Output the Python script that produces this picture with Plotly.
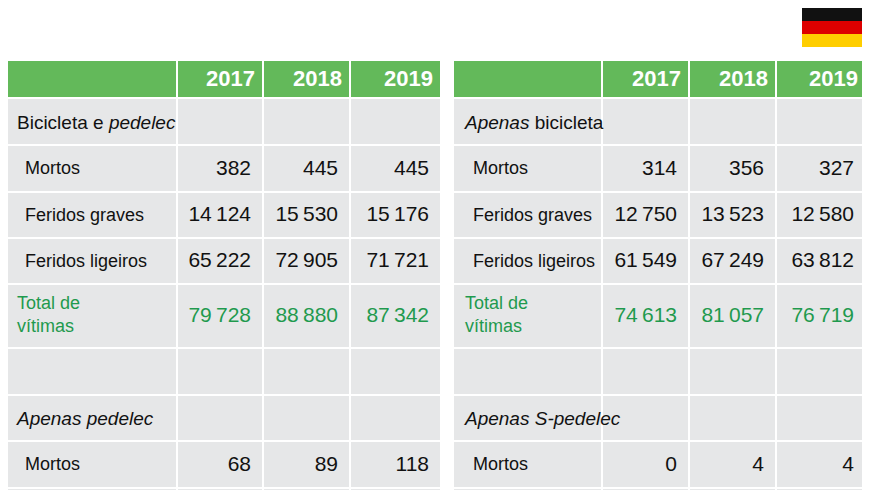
import plotly.graph_objects as go

title = "Vítimas de acidentes com bicicletas, <i>pedelecs</i> e S-<i>pedelecs</i>"
years = ["2017", "2018", "2019"]
row_labels = ["Mortos", "Feridos graves", "Feridos ligeiros", "Total de<br>vítimas"]
left_head1 = "Bicicleta e <i>pedelec</i>"
left_vals1 = [[382, 445, 445], [14124, 15530, 15176], [65222, 72905, 71721], [79728, 88880, 87342]]
left_head2 = "<i>Apenas pedelec</i>"
left_vals2 = [[68, 89, 118]]
right_head1 = "<i>Apenas</i> bicicleta"
right_vals1 = [[314, 356, 327], [12750, 13523, 12580], [61549, 67249, 63812], [74613, 81057, 76719]]
right_head2 = "<i>Apenas S-pedelec</i>"
right_vals2 = [[0, 4, 4]]

FONT = "Liberation Sans Narrow, Liberation Sans, Arial, sans-serif"
GREEN = "#63b95a"
TGREEN = "#1f9a4e"
GRAY = "#e6e7e8"

def fmt(v):
    return f"{v:,}".replace(",", "\u2009")

rows = [(60, 98), (98, 145), (145, 192), (192, 238), (238, 284), (284, 348), (348, 395), (395, 441), (441, 488), (488, 530)]
tables = [
    dict(cols=[5, 177, 263, 350, 441], h1=left_head1, v1=left_vals1, h2=left_head2, v2=left_vals2),
    dict(cols=[453, 602, 689, 776, 866], h1=right_head1, v1=right_vals1, h2=right_head2, v2=right_vals2),
]

fig = go.Figure()
shapes = []
for t in tables:
    c = t["cols"]
    for ri, (y0, y1) in enumerate(rows):
        for ci in range(4):
            shapes.append(dict(type="rect", xref="x", yref="y", x0=c[ci] + 1, x1=c[ci + 1] - 1,
                               y0=y0 + 1, y1=y1 - 1, fillcolor=GREEN if ri == 0 else GRAY,
                               line=dict(width=0), layer="below"))
    fig.add_trace(go.Scatter(x=[c[i + 2] - 8 for i in range(3)], y=[80] * 3, text=[f"<b>{y}</b>" for y in years],
                             mode="text", textposition="middle left",
                             textfont=dict(family=FONT, size=22, color="white"), hoverinfo="skip"))
    fig.add_trace(go.Scatter(x=[c[0] + 12, c[0] + 12], y=[124, 420], text=[t["h1"], t["h2"]], mode="text",
                             textposition="middle right", textfont=dict(family=FONT, size=19, color="#111"),
                             hoverinfo="skip"))
    lab_y = [(rows[i][0] + rows[i][1]) / 2 + 1 for i in (2, 3, 4)] + [(rows[8][0] + rows[8][1]) / 2 + 1]
    fig.add_trace(go.Scatter(x=[c[0] + 20] * 4, y=lab_y, text=row_labels[:3] + ["Mortos"], mode="text",
                             textposition="middle right", textfont=dict(family=FONT, size=18, color="#111"),
                             hoverinfo="skip"))
    fig.add_trace(go.Scatter(x=[c[0] + 12], y=[316], text=[row_labels[3]], mode="text",
                             textposition="middle right", textfont=dict(family=FONT, size=18, color=TGREEN),
                             hoverinfo="skip"))
    vrows = t["v1"] + t["v2"]
    ridx = [2, 3, 4, 5, 8]
    xs, ys, txt, cols = [], [], [], []
    for vr, ri in zip(vrows, ridx):
        for ci, v in enumerate(vr):
            xs.append(c[ci + 2] - 12)
            ys.append((rows[ri][0] + rows[ri][1]) / 2 + 1)
            txt.append(fmt(v))
            cols.append(TGREEN if ri == 5 else "#111")
    fig.add_trace(go.Scatter(x=xs, y=ys, text=txt, mode="text", textposition="middle left",
                             textfont=dict(family=FONT, size=21, color=cols), hoverinfo="skip"))

for i, col in enumerate(["#111111", "#dd0000", "#ffce00"]):
    shapes.append(dict(type="rect", xref="x", yref="y", x0=802, x1=866, y0=8 + i * 13, y1=8 + (i + 1) * 13,
                       fillcolor=col, line=dict(width=0)))

fig.add_annotation(x=6, y=24, xref="x", yref="y", text=title, showarrow=False, xanchor="left",
                   font=dict(family=FONT, size=27, color=TGREEN))

fig.update_layout(width=870, height=490, margin=dict(l=0, r=0, t=0, b=0), showlegend=False,
                  paper_bgcolor="white", plot_bgcolor="white", shapes=shapes,
                  xaxis=dict(range=[8, 878], visible=False, fixedrange=True),
                  yaxis=dict(range=[498, 8], visible=False, fixedrange=True))
fig.write_html("out.html")
